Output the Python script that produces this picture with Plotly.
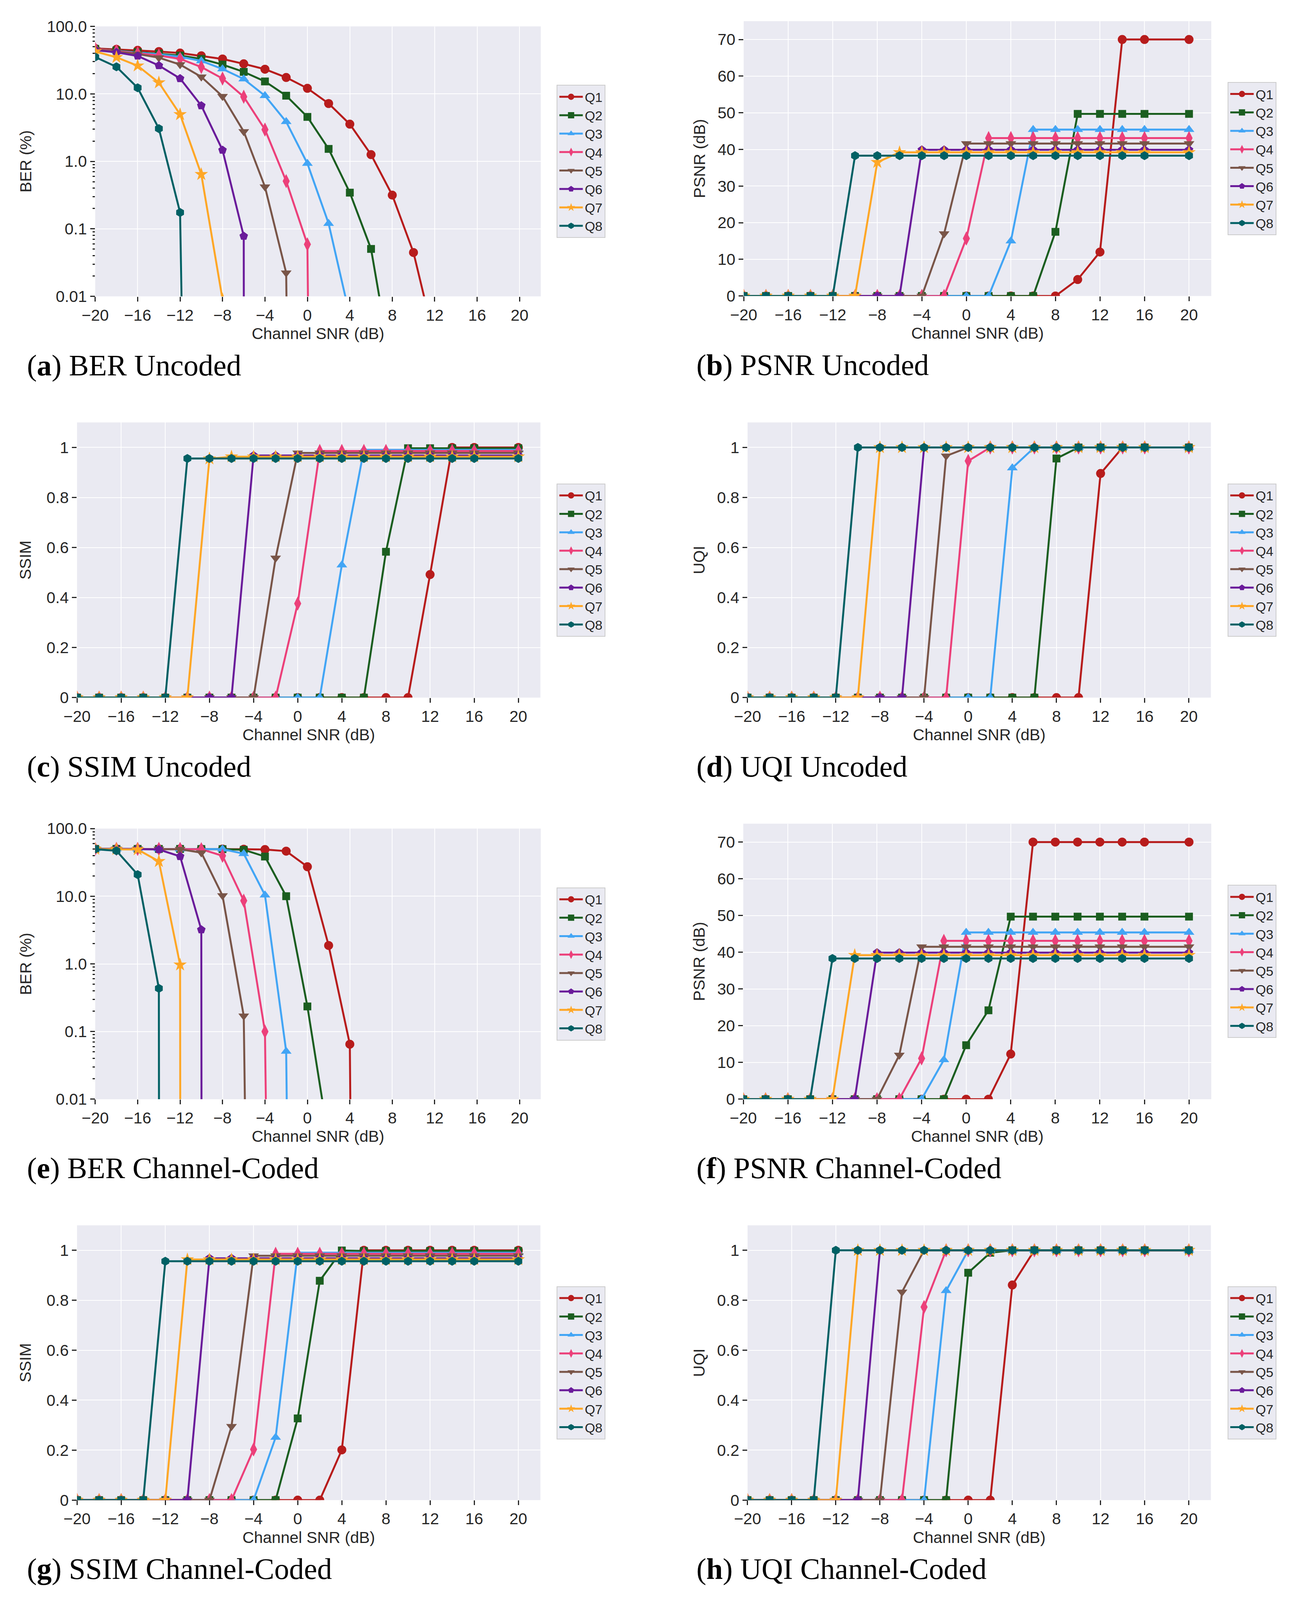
import plotly.graph_objects as go

W, H = 3313, 4542

snr = [-20, -18, -16, -14, -12, -10, -8, -6, -4, -2, 0, 2, 4, 6, 8, 10, 12, 14, 16, 20]
names = ["Q1", "Q2", "Q3", "Q4", "Q5", "Q6", "Q7", "Q8"]
colors = ["#B71C1C", "#1B5E20", "#42A5F5", "#EC407A", "#795548", "#6A1B9A", "#FFA726", "#006064"]
symbols = ["circle", "square", "triangle-up", "diamond-tall", "triangle-down", "pentagon", "star", "hexagon"]
msizes = [23, 20, 24, 26, 24, 23, 26, 23]

# BER (%) - uncoded
ber_unc = [
    [47.2, 45.7, 44.2, 42.4, 40.3, 36.7, 32.9, 27.9, 23.2, 17.5, 12.1, 7.2, 3.56, 1.26, 0.316, 0.0446, 0.0022, 0, 0, 0],
    [46.5, 44.0, 41.5, 39.5, 37.0, 33.0, 27.2, 21.2, 15.3, 9.4, 4.56, 1.53, 0.344, 0.0504, 0.00076, 0, 0, 0, 0, 0],
    [46.0, 43.5, 41.0, 38.5, 35.5, 30.8, 23.4, 16.6, 9.4, 3.87, 0.93, 0.12, 0.0051, 0, 0, 0, 0, 0, 0, 0],
    [46.5, 43.0, 40.0, 37.0, 33.0, 25.0, 16.9, 9.06, 2.96, 0.51, 0.059, 0, 0, 0, 0, 0, 0, 0, 0, 0],
    [45.5, 42.0, 39.0, 34.4, 27.2, 17.9, 9.2, 2.77, 0.42, 0.0223, 0, 0, 0, 0, 0, 0, 0, 0, 0, 0],
    [44.5, 41.3, 36.5, 26.3, 16.9, 6.7, 1.47, 0.078, 0, 0, 0, 0, 0, 0, 0, 0, 0, 0, 0, 0],
    [42.4, 34.9, 26.1, 14.7, 4.96, 0.643, 0.009, 0, 0, 0, 0, 0, 0, 0, 0, 0, 0, 0, 0, 0],
    [35.2, 25.2, 12.3, 3.06, 0.175, 0, 0, 0, 0, 0, 0, 0, 0, 0, 0, 0, 0, 0, 0, 0],
]

psnr_unc = [
    [0, 0, 0, 0, 0, 0, 0, 0, 0, 0, 0, 0, 0, 0, 0, 4.5, 12.0, 70.0, 70.0, 70.0],
    [0, 0, 0, 0, 0, 0, 0, 0, 0, 0, 0, 0, 0, 0, 17.5, 49.7, 49.7, 49.7, 49.7, 49.7],
    [0, 0, 0, 0, 0, 0, 0, 0, 0, 0, 0, 0, 15.0, 45.4, 45.4, 45.4, 45.4, 45.4, 45.4, 45.4],
    [0, 0, 0, 0, 0, 0, 0, 0, 0, 0, 15.7, 43.1, 43.1, 43.1, 43.1, 43.1, 43.1, 43.1, 43.1, 43.1],
    [0, 0, 0, 0, 0, 0, 0, 0, 0, 17.0, 41.6, 41.6, 41.6, 41.6, 41.6, 41.6, 41.6, 41.6, 41.6, 41.6],
    [0, 0, 0, 0, 0, 0, 0, 0, 39.9, 39.9, 39.9, 39.9, 39.9, 39.9, 39.9, 39.9, 39.9, 39.9, 39.9, 39.9],
    [0, 0, 0, 0, 0, 0, 36.5, 39.2, 39.2, 39.2, 39.2, 39.2, 39.2, 39.2, 39.2, 39.2, 39.2, 39.2, 39.2, 39.2],
    [0, 0, 0, 0, 0, 38.3, 38.3, 38.3, 38.3, 38.3, 38.3, 38.3, 38.3, 38.3, 38.3, 38.3, 38.3, 38.3, 38.3, 38.3],
]

ssim_unc = [
    [0, 0, 0, 0, 0, 0, 0, 0, 0, 0, 0, 0, 0, 0, 0, 0, 0.492, 1.0, 1.0, 1.0],
    [0, 0, 0, 0, 0, 0, 0, 0, 0, 0, 0, 0, 0, 0, 0.583, 0.997, 0.997, 0.997, 0.997, 0.997],
    [0, 0, 0, 0, 0, 0, 0, 0, 0, 0, 0, 0, 0.53, 0.99, 0.99, 0.99, 0.99, 0.99, 0.99, 0.99],
    [0, 0, 0, 0, 0, 0, 0, 0, 0, 0, 0.376, 0.986, 0.986, 0.986, 0.986, 0.986, 0.986, 0.986, 0.986, 0.986],
    [0, 0, 0, 0, 0, 0, 0, 0, 0, 0.558, 0.978, 0.978, 0.978, 0.978, 0.978, 0.978, 0.978, 0.978, 0.978, 0.978],
    [0, 0, 0, 0, 0, 0, 0, 0, 0.968, 0.968, 0.968, 0.968, 0.968, 0.968, 0.968, 0.968, 0.968, 0.968, 0.968, 0.968],
    [0, 0, 0, 0, 0, 0, 0.955, 0.963, 0.963, 0.963, 0.963, 0.963, 0.963, 0.963, 0.963, 0.963, 0.963, 0.963, 0.963, 0.963],
    [0, 0, 0, 0, 0, 0.956, 0.956, 0.956, 0.956, 0.956, 0.956, 0.956, 0.956, 0.956, 0.956, 0.956, 0.956, 0.956, 0.956, 0.956],
]

uqi_unc = [
    [0, 0, 0, 0, 0, 0, 0, 0, 0, 0, 0, 0, 0, 0, 0, 0, 0.896, 1, 1, 1],
    [0, 0, 0, 0, 0, 0, 0, 0, 0, 0, 0, 0, 0, 0, 0.956, 1, 1, 1, 1, 1],
    [0, 0, 0, 0, 0, 0, 0, 0, 0, 0, 0, 0, 0.918, 1, 1, 1, 1, 1, 1, 1],
    [0, 0, 0, 0, 0, 0, 0, 0, 0, 0, 0.946, 1, 1, 1, 1, 1, 1, 1, 1, 1],
    [0, 0, 0, 0, 0, 0, 0, 0, 0, 0.966, 1, 1, 1, 1, 1, 1, 1, 1, 1, 1],
    [0, 0, 0, 0, 0, 0, 0, 0, 1, 1, 1, 1, 1, 1, 1, 1, 1, 1, 1, 1],
    [0, 0, 0, 0, 0, 0, 1, 1, 1, 1, 1, 1, 1, 1, 1, 1, 1, 1, 1, 1],
    [0, 0, 0, 0, 0, 1, 1, 1, 1, 1, 1, 1, 1, 1, 1, 1, 1, 1, 1, 1],
]

# channel-coded
ber_cod = [
    [50, 50, 50, 50, 50, 49.9, 49.8, 49.5, 49.0, 46.4, 27.3, 1.87, 0.065, 0, 0, 0, 0, 0, 0, 0],
    [50, 50, 50, 50, 50, 49.8, 49.6, 48.6, 38.6, 10.0, 0.235, 0.0025, 0, 0, 0, 0, 0, 0, 0, 0],
    [50, 50, 50, 50, 49.9, 49.7, 49.6, 42.5, 10.4, 0.051, 0, 0, 0, 0, 0, 0, 0, 0, 0, 0],
    [50, 50, 50, 50, 49.8, 49.5, 39.6, 8.6, 0.10, 0, 0, 0, 0, 0, 0, 0, 0, 0, 0, 0],
    [50, 50, 50, 49.8, 49.5, 44.0, 10.2, 0.17, 0, 0, 0, 0, 0, 0, 0, 0, 0, 0, 0, 0],
    [50, 50, 49.8, 49.0, 38.8, 3.2, 0, 0, 0, 0, 0, 0, 0, 0, 0, 0, 0, 0, 0, 0],
    [49.8, 49.5, 49.0, 32.8, 0.97, 0, 0, 0, 0, 0, 0, 0, 0, 0, 0, 0, 0, 0, 0, 0],
    [49.6, 47.0, 20.9, 0.434, 0, 0, 0, 0, 0, 0, 0, 0, 0, 0, 0, 0, 0, 0, 0, 0],
]

psnr_cod = [
    [0, 0, 0, 0, 0, 0, 0, 0, 0, 0, 0, 0, 12.3, 70.0, 70.0, 70.0, 70.0, 70.0, 70.0, 70.0],
    [0, 0, 0, 0, 0, 0, 0, 0, 0, 0, 14.7, 24.2, 49.7, 49.7, 49.7, 49.7, 49.7, 49.7, 49.7, 49.7],
    [0, 0, 0, 0, 0, 0, 0, 0, 0, 10.7, 45.4, 45.4, 45.4, 45.4, 45.4, 45.4, 45.4, 45.4, 45.4, 45.4],
    [0, 0, 0, 0, 0, 0, 0, 0, 11.1, 43.1, 43.1, 43.1, 43.1, 43.1, 43.1, 43.1, 43.1, 43.1, 43.1, 43.1],
    [0, 0, 0, 0, 0, 0, 0, 12.0, 41.5, 41.5, 41.5, 41.5, 41.5, 41.5, 41.5, 41.5, 41.5, 41.5, 41.5, 41.5],
    [0, 0, 0, 0, 0, 0, 39.9, 39.9, 39.9, 39.9, 39.9, 39.9, 39.9, 39.9, 39.9, 39.9, 39.9, 39.9, 39.9, 39.9],
    [0, 0, 0, 0, 0, 39.2, 39.2, 39.2, 39.2, 39.2, 39.2, 39.2, 39.2, 39.2, 39.2, 39.2, 39.2, 39.2, 39.2, 39.2],
    [0, 0, 0, 0, 38.3, 38.3, 38.3, 38.3, 38.3, 38.3, 38.3, 38.3, 38.3, 38.3, 38.3, 38.3, 38.3, 38.3, 38.3, 38.3],
]

ssim_cod = [
    [0, 0, 0, 0, 0, 0, 0, 0, 0, 0, 0, 0, 0.201, 1.0, 1.0, 1.0, 1.0, 1.0, 1.0, 1.0],
    [0, 0, 0, 0, 0, 0, 0, 0, 0, 0, 0.327, 0.878, 0.999, 0.997, 0.997, 0.997, 0.997, 0.997, 0.997, 0.997],
    [0, 0, 0, 0, 0, 0, 0, 0, 0, 0.251, 0.99, 0.99, 0.99, 0.99, 0.99, 0.99, 0.99, 0.99, 0.99, 0.99],
    [0, 0, 0, 0, 0, 0, 0, 0, 0.203, 0.986, 0.986, 0.986, 0.986, 0.986, 0.986, 0.986, 0.986, 0.986, 0.986, 0.986],
    [0, 0, 0, 0, 0, 0, 0, 0.295, 0.978, 0.978, 0.978, 0.978, 0.978, 0.978, 0.978, 0.978, 0.978, 0.978, 0.978, 0.978],
    [0, 0, 0, 0, 0, 0, 0.968, 0.968, 0.968, 0.968, 0.968, 0.968, 0.968, 0.968, 0.968, 0.968, 0.968, 0.968, 0.968, 0.968],
    [0, 0, 0, 0, 0, 0.963, 0.963, 0.963, 0.963, 0.963, 0.963, 0.963, 0.963, 0.963, 0.963, 0.963, 0.963, 0.963, 0.963, 0.963],
    [0, 0, 0, 0, 0.956, 0.956, 0.956, 0.956, 0.956, 0.956, 0.956, 0.956, 0.956, 0.956, 0.956, 0.956, 0.956, 0.956, 0.956, 0.956],
]

uqi_cod = [
    [0, 0, 0, 0, 0, 0, 0, 0, 0, 0, 0, 0, 0.861, 1, 1, 1, 1, 1, 1, 1],
    [0, 0, 0, 0, 0, 0, 0, 0, 0, 0, 0.91, 0.99, 1, 1, 1, 1, 1, 1, 1, 1],
    [0, 0, 0, 0, 0, 0, 0, 0, 0, 0.838, 1, 1, 1, 1, 1, 1, 1, 1, 1, 1],
    [0, 0, 0, 0, 0, 0, 0, 0, 0.773, 1, 1, 1, 1, 1, 1, 1, 1, 1, 1, 1],
    [0, 0, 0, 0, 0, 0, 0, 0.833, 1, 1, 1, 1, 1, 1, 1, 1, 1, 1, 1, 1],
    [0, 0, 0, 0, 0, 0, 1, 1, 1, 1, 1, 1, 1, 1, 1, 1, 1, 1, 1, 1],
    [0, 0, 0, 0, 0, 1, 1, 1, 1, 1, 1, 1, 1, 1, 1, 1, 1, 1, 1, 1],
    [0, 0, 0, 0, 1, 1, 1, 1, 1, 1, 1, 1, 1, 1, 1, 1, 1, 1, 1, 1],
]

x_ticks = [-20, -16, -12, -8, -4, 0, 4, 8, 12, 16, 20]

# (data, y title, kind, letter, caption, plot box in px: left, top, right, bottom)
panels = [
    (ber_unc, "BER (%)", "ber", "a", "BER Uncoded", (211, 50, 1364, 825)),
    (psnr_unc, "PSNR (dB)", "psnr", "b", "PSNR Uncoded", (1889, 35, 3099, 824)),
    (ssim_unc, "SSIM", "idx", "c", "SSIM Uncoded", (164, 1187, 1363, 1977)),
    (uqi_unc, "UQI", "idx", "d", "UQI Uncoded", (1899, 1187, 3098, 1977)),
    (ber_cod, "BER (%)", "ber", "e", "BER Channel-Coded", (211, 2353, 1364, 3130)),
    (psnr_cod, "PSNR (dB)", "psnr", "f", "PSNR Channel-Coded", (1888, 2339, 3099, 3130)),
    (ssim_cod, "SSIM", "idx", "g", "SSIM Channel-Coded", (164, 3492, 1363, 4281)),
    (uqi_cod, "UQI", "idx", "h", "UQI Channel-Coded", (1899, 3492, 3098, 4281)),
]

TXT = "#262626"
FONT = "Liberation Sans, Arial, sans-serif"

fig = go.Figure()
layout = dict(
    autosize=True,
    margin=dict(l=0, r=0, t=0, b=0),
    paper_bgcolor="white",
    plot_bgcolor="#EAEAF2",
    font=dict(family=FONT, color=TXT, size=41),
    annotations=[],
)

axis_common = dict(
    ticks="outside", ticklen=12, tickwidth=3, tickcolor=TXT,
    showgrid=True, gridcolor="white", gridwidth=1.5,
    zeroline=False, showline=False,
    tickfont=dict(family=FONT, size=41, color=TXT),
)

for i, (data, ytitle, kind, letter, caption, box) in enumerate(panels):
    n = i + 1
    sfx = "" if n == 1 else str(n)
    l, t, r, b = box
    left_col = l < 1000
    xa = dict(axis_common)
    xa.update(
        domain=[l / W, r / W], anchor="y" + sfx,
        range=[-20, 22], tickvals=x_ticks,
        ticktext=[str(v).replace("-", "\u2212") for v in x_ticks],
        title=dict(text="Channel SNR (dB)", standoff=10, font=dict(size=41)),
    )
    ya = dict(axis_common)
    ya.update(
        domain=[1 - b / H, 1 - t / H], anchor="x" + sfx,
        title=dict(text=ytitle, standoff=26 if left_col else 18, font=dict(size=41)),
    )
    if kind == "ber":
        ya.update(type="log", range=[-2, 2],
                  tickvals=[0.01, 0.1, 1, 10, 100],
                  ticktext=["0.01", "0.1", "1.0", "10.0", "100.0"],
                  minor=dict(ticks="outside", ticklen=6, tickwidth=3, tickcolor=TXT,
                             dtick="D1", showgrid=False))
    elif kind == "psnr":
        ya.update(range=[0, 75], tickvals=[0, 10, 20, 30, 40, 50, 60, 70])
    else:
        ya.update(range=[0, 1.1], tickvals=[0, 0.2, 0.4, 0.6, 0.8, 1],
                  ticktext=["0", "0.2", "0.4", "0.6", "0.8", "1"])
    layout["xaxis" + sfx] = xa
    layout["yaxis" + sfx] = ya

    leg_x = 1405 if left_col else 3141
    layout["legend" + sfx] = dict(
        x=leg_x / W, y=1 - ((t + b) / 2) / H, xanchor="left", yanchor="middle",
        bgcolor="#EAEAF2", bordercolor="#CCCCCC", borderwidth=2,
        font=dict(family=FONT, size=34, color=TXT),
        tracegroupgap=0, itemsizing="trace", itemwidth=60,
    )

    for k in range(8):
        ys = data[k]
        if kind == "ber":
            # emulate matplotlib's clipping of zero values on a log axis
            ys = [v if v > 0 else 1e-300 for v in ys]
        fig.add_trace(go.Scatter(
            x=snr, y=ys, name=names[k], mode="lines+markers",
            line=dict(color=colors[k], width=5),
            marker=dict(symbol=symbols[k], size=msizes[k], color=colors[k], line=dict(width=0)),
            xaxis="x" + sfx, yaxis="y" + sfx, legend="legend" + sfx,
            cliponaxis=True,
        ))

    cap_x = 32 if left_col else 1765
    cap_y = b + 198
    layout["annotations"].append(dict(
        text="(<b>" + letter + "</b>) " + caption,
        xref="paper", yref="paper", x=cap_x / W, y=1 - cap_y / H,
        xanchor="left", yanchor="middle", showarrow=False,
        font=dict(family="Liberation Serif, Times New Roman, serif", size=76, color="black"),
    ))

fig.update_layout(**layout)
# fill the browser viewport exactly, with no page margin and no modebar
fig.write_html(
    "out.html",
    config={"displayModeBar": False},
    default_width="100vw",
    default_height="100vh",
    post_script="document.body.style.margin='0';document.documentElement.style.overflow='hidden';"
                "Plotly.Plots.resize(document.getElementById('{plot_id}'));",
)
